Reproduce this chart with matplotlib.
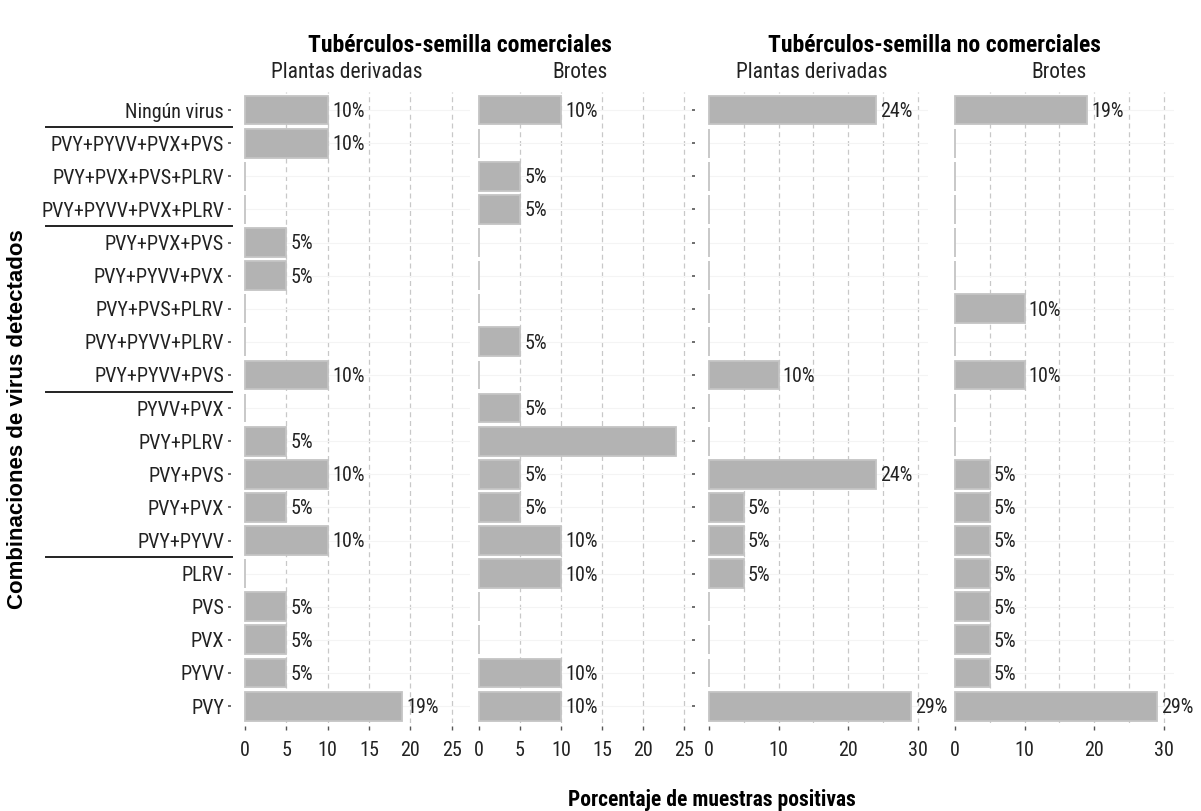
import matplotlib
matplotlib.use("Agg")
import matplotlib.pyplot as plt
import matplotlib.transforms as mtransforms
import numpy as np

plt.rcParams['font.family'] = ['Roboto Condensed', 'Liberation Sans', 'DejaVu Sans']

# combinaciones, de arriba hacia abajo
combinaciones = ["Ningún virus", "PVY+PYVV+PVX+PVS", "PVY+PVX+PVS+PLRV", "PVY+PYVV+PVX+PLRV",
                 "PVY+PVX+PVS", "PVY+PYVV+PVX", "PVY+PVS+PLRV", "PVY+PYVV+PLRV", "PVY+PYVV+PVS",
                 "PYVV+PVX", "PVY+PLRV", "PVY+PVS", "PVY+PVX", "PVY+PYVV", "PLRV", "PVS", "PVX",
                 "PYVV", "PVY"]

com_plantas = [10, 10, 0, 0, 5, 5, 0, 0, 10, 0, 5, 10, 5, 10, 0, 5, 5, 5, 19]
com_brotes = [10, 0, 5, 5, 0, 0, 0, 5, 0, 5, 24, 5, 5, 10, 10, 0, 0, 10, 10]
nocom_plantas = [24, 0, 0, 0, 0, 0, 0, 0, 10, 0, 0, 24, 5, 5, 5, 0, 0, 0, 29]
nocom_brotes = [19, 0, 0, 0, 0, 0, 10, 0, 10, 0, 0, 5, 5, 5, 5, 5, 5, 5, 29]

# barras sin etiqueta en el original
sin_etiqueta = {("Brotes com", "PVY+PLRV")}

# grupos separados por una raya (indice de la ultima fila del grupo)
separadores = [0, 3, 8, 13]

W, H = 1201, 811
fig = plt.figure(figsize=(W / 100, H / 100), dpi=100)

TOP, BOTTOM = 92, 723
n = len(combinaciones)
y = np.arange(n)[::-1]


def panel(left, right):
    return fig.add_axes([left / W, 1 - BOTTOM / H, (right - left) / W, (BOTTOM - TOP) / H])


paneles = [
    ("Plantas com", com_plantas, 245, 470, 27.2, [0, 5, 10, 15, 20, 25], []),
    ("Brotes com", com_brotes, 479, 692, 26.0, [0, 5, 10, 15, 20, 25], []),
    ("Plantas nocom", nocom_plantas, 709, 928, 31.5, [0, 10, 20, 30], [5, 15, 25]),
    ("Brotes nocom", nocom_brotes, 955, 1174, 31.5, [0, 10, 20, 30], [5, 15, 25]),
]

axes = []
for i, (nombre, vals, l, r, xmax, major, minor) in enumerate(paneles):
    ax = panel(l, r)
    axes.append(ax)
    ax.set_xlim(0, xmax)
    ax.set_ylim(-0.51, n - 1 + 0.545)
    for s in ax.spines.values():
        s.set_visible(False)
    # rejilla
    for g in major[1:] + minor:
        ax.axvline(g, color='#c8c8c8', lw=0.9, ls=(0, (4, 3)), zorder=0)
    for yy in y:
        ax.axhline(yy, color='#f4f4f4', lw=0.8, zorder=0)
    ax.barh(y, vals, height=0.87, color='#b3b3b3', edgecolor='#c4c4c4', linewidth=1.3,
            zorder=2, clip_on=False)
    for yy, v, c in zip(y, vals, combinaciones):
        if v > 0 and (nombre, c) not in sin_etiqueta:
            ax.annotate(f"{v}%", (v, yy), xytext=(3, -1), textcoords='offset points',
                        va='center', ha='left', fontsize=14.5, color='#222222')
    ax.set_xticks(major)
    ax.set_xticks(minor, minor=True)
    ax.tick_params(axis='x', which='major', length=3, width=1, color='#555555', pad=8,
                   labelsize=14.5, labelcolor='#222222')
    ax.tick_params(axis='x', which='minor', length=0)
    ax.spines['bottom'].set_position(('outward', 2))
    ax.spines['left'].set_position(('outward', 10))
    ax.set_yticks(y)
    if i == 0:
        ax.set_yticklabels(combinaciones)
        ax.tick_params(axis='y', length=2, width=1.2, color='#555555', pad=3,
                       labelsize=14.5, labelcolor='#222222')
    elif i == 2:
        ax.set_yticklabels([])
        ax.tick_params(axis='y', length=2, width=1.2, color='#555555')
    else:
        ax.set_yticklabels([])
        ax.tick_params(axis='y', length=0)

# rayas entre grupos de combinaciones
trans = mtransforms.blended_transform_factory(fig.transFigure, axes[0].transData)
for k in separadores:
    yb = y[k] - 0.5
    axes[0].plot([46 / W, 232 / W], [yb, yb], color='#222222', lw=1.4, transform=trans,
                 clip_on=False)

# titulos
fig.text(460 / W, 1 - 46 / H, "Tubérculos-semilla comerciales", ha='center', va='center',
         fontsize=17, fontweight='bold')
fig.text(934 / W, 1 - 46 / H, "Tubérculos-semilla no comerciales", ha='center', va='center',
         fontsize=17, fontweight='bold')
for xc, t in zip([347, 580, 812, 1059],
                 ["Plantas derivadas", "Brotes", "Plantas derivadas", "Brotes"]):
    fig.text(xc / W, 1 - 73 / H, t, ha='center', va='center', fontsize=15.5, color='#222222')

fig.text(18 / W, 1 - 419 / H, "Combinaciones de virus detectados", rotation=90,
         ha='center', va='center', fontsize=16, fontweight='bold',
         family=['Liberation Sans', 'DejaVu Sans'])
fig.text(712 / W, 1 - 800 / H, "Porcentaje de muestras positivas", ha='center', va='center',
         fontsize=15.5, fontweight='bold')

fig.savefig("out.png", dpi=100)
